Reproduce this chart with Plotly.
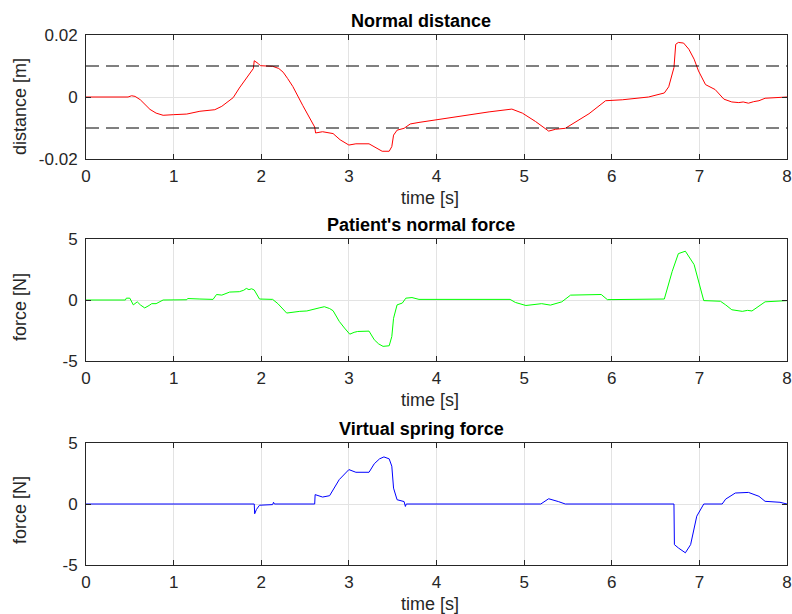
import plotly.graph_objects as go

# ---------------- data ----------------
t_dist = [0, 0.48, 0.52, 0.56, 0.62, 0.68, 0.73, 0.8, 0.88, 1.0, 1.15, 1.3, 1.47, 1.55, 1.6, 1.68, 1.75,
          1.85, 1.91, 1.92, 1.95, 1.97, 1.99, 2.13, 2.2, 2.25, 2.3, 2.36, 2.475, 2.61, 2.62, 2.7, 2.82,
          2.9, 3.0, 3.08, 3.23, 3.31, 3.38, 3.46, 3.49, 3.51, 3.55, 3.63, 3.7, 3.8, 4.22, 4.6, 4.86,
          4.98, 5.13, 5.28, 5.36, 5.47, 5.74, 5.93, 6.12, 6.42, 6.6, 6.65, 6.71, 6.73, 6.76, 6.82,
          6.88, 6.94, 6.99, 7.07, 7.18, 7.28, 7.37, 7.45, 7.5, 7.56, 7.62, 7.68, 7.75, 7.9, 8.0]
d_dist = [0, 0, 0.0004, 0.0002, -0.0009, -0.0025, -0.004, -0.0052, -0.0059, -0.0057, -0.0055, -0.0046,
          -0.0041, -0.003, -0.0019, -0.0002, 0.0029, 0.0068, 0.0092, 0.0117, 0.0112, 0.0107, 0.0101,
          0.0099, 0.0092, 0.008, 0.006, 0.0034, -0.0028, -0.0097, -0.0116, -0.0112, -0.0118, -0.0138,
          -0.0155, -0.0151, -0.0151, -0.0165, -0.0175, -0.0175, -0.016, -0.0123, -0.0107, -0.0101,
          -0.0087, -0.0082, -0.0063, -0.0048, -0.0039, -0.0052, -0.0079, -0.011, -0.0104, -0.0101,
          -0.0054, -0.0012, -0.0009, 0.0, 0.0013, 0.0033, 0.0095, 0.017, 0.0176, 0.0174, 0.0154,
          0.0122, 0.0084, 0.004, 0.0024, -0.0007, -0.0016, -0.0018, -0.0016, -0.002, -0.0015, -0.0012,
          -0.0004, -0.0003, 0.0]
thresholds = [0.01, -0.01]

t_pat = [0, 0.45, 0.46, 0.5, 0.54, 0.585, 0.62, 0.67, 0.72, 0.75, 0.8, 0.88, 1.15, 1.16, 1.3, 1.45,
         1.49, 1.55, 1.64, 1.75, 1.8, 1.83, 1.86, 1.89, 1.92, 1.98, 2.13, 2.19, 2.29, 2.35, 2.44, 2.52,
         2.59, 2.66, 2.72, 2.78, 2.82, 2.89, 2.95, 3.01, 3.06, 3.1, 3.23, 3.29, 3.34, 3.39, 3.46, 3.49,
         3.51, 3.55, 3.61, 3.65, 3.72, 3.8, 4.84, 4.9, 5.02, 5.12, 5.2, 5.3, 5.43, 5.53, 5.65, 5.74,
         5.83, 5.88, 5.95, 6.6, 6.69, 6.76, 6.84, 6.88, 6.94, 7.05, 7.24, 7.3, 7.37, 7.49, 7.55, 7.6,
         7.68, 7.75, 8.0]
f_pat = [0, 0, 0.15, 0.15, -0.4, -0.15, -0.4, -0.65, -0.45, -0.3, -0.3, 0, 0.02, 0.12, 0.08, 0.05,
         0.45, 0.4, 0.65, 0.68, 0.8, 0.95, 0.85, 0.92, 0.82, 0.08, 0.05, -0.3, -1.07, -1.0, -0.93, -0.9,
         -0.8, -0.65, -0.55, -0.7, -0.88, -1.75, -2.3, -2.8, -2.65, -2.58, -2.55, -3.26, -3.6, -3.8,
         -3.75, -3.0, -1.5, -0.4, -0.25, 0.15, 0.2, 0.05, 0.05, -0.2, -0.45, -0.35, -0.3, -0.42, -0.15,
         0.4, 0.42, 0.45, 0.5, 0.45, 0.03, 0.08, 2.35, 3.8, 4.0, 3.6, 2.9, -0.05, -0.1, -0.4, -0.8,
         -0.93, -0.85, -0.9, -0.5, -0.15, -0.05]

t_spr = [0, 1.92, 1.925, 1.945, 1.98, 2.13, 2.14, 2.15, 2.61, 2.615, 2.7, 2.78, 2.89, 3.0, 3.08, 3.23,
         3.29, 3.35, 3.4, 3.46, 3.49, 3.51, 3.55, 3.63, 3.645, 3.655, 5.19, 5.28, 5.39, 5.47, 6.71,
         6.715, 6.76, 6.84, 6.9, 6.97, 7.05, 7.26, 7.3, 7.41, 7.56, 7.68, 7.75, 7.92, 8.0]
f_spr = [0, 0, -0.8, -0.45, -0.1, -0.05, 0.14, 0, 0, 0.77, 0.57, 0.68, 2.0, 2.82, 2.6, 2.6, 3.3, 3.7,
         3.86, 3.7, 3.1, 1.3, 0.35, 0.2, -0.2, 0, 0, 0.43, 0.2, 0, 0, -3.33, -3.6, -4.0, -3.33, -1.0,
         0, 0, 0.4, 0.9, 0.95, 0.63, 0.22, 0.14, 0]

titles = ["Normal distance", "Patient's normal force", "Virtual spring force"]
ylabels = ["distance [m]", "force [N]", "force [N]"]
xlabel = "time [s]"
xticks = [0, 1, 2, 3, 4, 5, 6, 7, 8]
yticks_dist = [-0.02, 0, 0.02]
yticktext_dist = ["-0.02", "0", "0.02"]
yticks_force = [-5, 0, 5]
yticktext_force = ["-5", "0", "5"]

# ---------------- figure ----------------
W, H = 792, 614
ML, MR = 86, 5
FONT = "Liberation Sans, Arial, sans-serif"
DARK = "#262626"

fig = go.Figure()

fig.add_trace(go.Scatter(x=t_dist, y=d_dist, mode="lines", line=dict(color="#ff0000", width=1),
                         xaxis="x", yaxis="y", showlegend=False))
for th in thresholds:
    fig.add_trace(go.Scatter(x=[xticks[0], xticks[-1]], y=[th, th], mode="lines",
                             line=dict(color="#000000", width=1, dash="13px,7px"),
                             xaxis="x", yaxis="y", showlegend=False))
fig.add_trace(go.Scatter(x=t_pat, y=f_pat, mode="lines", line=dict(color="#00ff00", width=1),
                         xaxis="x2", yaxis="y2", showlegend=False))
fig.add_trace(go.Scatter(x=t_spr, y=f_spr, mode="lines", line=dict(color="#0000ff", width=1),
                         xaxis="x3", yaxis="y3", showlegend=False))

# pixel boxes of the plot areas (top, bottom)
boxes = [(35, 159), (239, 361), (443, 565)]

def py(p):
    return 1 - p / H

def px(p):
    return (p - ML) / (W - ML - MR)

common_ax = dict(showline=True, linecolor=DARK, linewidth=1, mirror="ticks", ticks="inside",
                 ticklen=5, tickcolor=DARK, tickwidth=1, showgrid=True, gridcolor="#e3e3e3",
                 gridwidth=1, zeroline=False, automargin=False, ticklabeloverflow="allow",
                 tickfont=dict(family=FONT, size=17, color=DARK))

layout = dict(template="none", width=W, height=H, autosize=False,
              margin=dict(l=ML, r=MR, t=0, b=0, pad=0),
              paper_bgcolor="white", plot_bgcolor="white", showlegend=False)

for i, (top, bot) in enumerate(boxes):
    s = "" if i == 0 else str(i + 1)
    layout["xaxis" + s] = dict(common_ax, domain=[0, 1], range=[0, 8], tickvals=xticks,
                               anchor="y" + s, ticklabelstandoff=2)
    if i == 0:
        layout["yaxis" + s] = dict(common_ax, domain=[py(bot), py(top)], range=[-0.02, 0.02],
                                   tickvals=yticks_dist, ticktext=yticktext_dist, anchor="x" + s,
                                   ticklabelstandoff=4)
    else:
        layout["yaxis" + s] = dict(common_ax, domain=[py(bot), py(top)], range=[-5, 5],
                                   tickvals=yticks_force, ticktext=yticktext_force,
                                   anchor="x" + s, ticklabelstandoff=4)

fig.update_layout(**layout)

ann = []
title_y = [21, 225, 429]
xlab_y = [198, 400, 604]
ylab_y = [107, 307, 510]
for i in range(3):
    ann.append(dict(text="<b>" + titles[i] + "</b>", xref="paper", yref="paper",
                    x=px(421), y=py(title_y[i]), xanchor="center", yanchor="middle",
                    showarrow=False, font=dict(family=FONT, size=18, color="#000000")))
    ann.append(dict(text=xlabel, xref="paper", yref="paper", x=px(430), y=py(xlab_y[i]),
                    xanchor="center", yanchor="middle", showarrow=False,
                    font=dict(family=FONT, size=18, color=DARK)))
    ann.append(dict(text=ylabels[i], xref="paper", yref="paper", x=px(20), y=py(ylab_y[i]),
                    xanchor="center", yanchor="middle", textangle=-90, showarrow=False,
                    font=dict(family=FONT, size=18, color=DARK)))
fig.update_layout(annotations=ann)

fig.write_html("out.html")
